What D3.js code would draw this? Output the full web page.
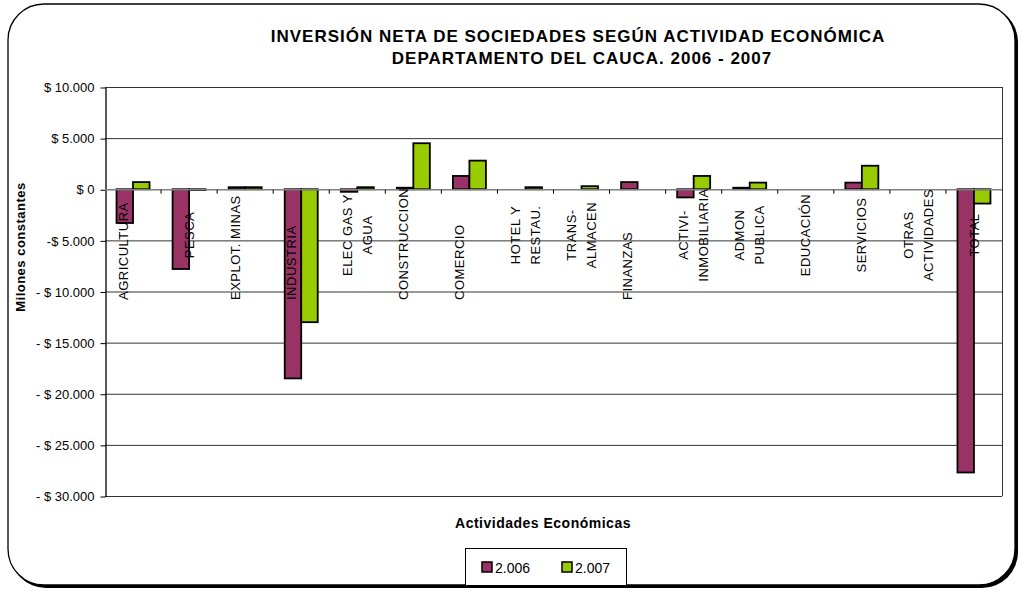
<!DOCTYPE html>
<html>
<head>
<meta charset="utf-8">
<script src="https://cdn.jsdelivr.net/npm/d3@7"></script>
<style>
  body { margin: 0; background: #fff; }
  text { font-family: "Liberation Sans", Arial, sans-serif; fill: #000; }
</style>
</head>
<body>
<svg></svg>
<script>

// datos (millones constantes)
var categorias = ["AGRICULTURA\n", "PESCA", "EXPLOT. MINAS\n", "INDUSTRIA\n", "ELEC GAS Y\nAGUA",
    "CONSTRUCCION\n", "COMERCIO\n", "HOTEL Y\nRESTAU.", "TRANS-\nALMACEN", "FINANZAS\n",
    "ACTIVI-\nINMOBILIARIA", "ADMON\nPUBLICA", "EDUCACIÓN", "SERVICIOS", "OTRAS\nACTIVIDADES", "TOTAL"]
var series = ["2.006", "2.007"]
var valores2006 = [-3300, -7800, 200, -18500, -250, 150, 1300, 0, 0, 700, -800, 150, 0, 650, 0, -27700]
var valores2007 = [700, -80, 200, -13000, 200, 4500, 2800, 200, 300, 0, 1300, 650, 0, 2300, 0, -1400]
var ticksY = [10000, 5000, 0, -5000, -10000, -15000, -20000, -25000, -30000]
var ticksTexto = ["$ 10.000", "$ 5.000", "$ 0", "-$ 5.000", "- $ 10.000", "- $ 15.000", "- $ 20.000", "- $ 25.000", "- $ 30.000"]
var colores = ["#993366", "#99cc00"]

var svg = d3.select("svg")
    .attr("width", 1021)
    .attr("height", 591);

// marco redondeado con sombra
svg.append("rect")
    .attr("x", 10).attr("y", 6)
    .attr("width", 1008).attr("height", 582)
    .attr("rx", 36)
    .attr("fill", "#000");
svg.append("rect")
    .attr("x", 8).attr("y", 4)
    .attr("width", 1007).attr("height", 581)
    .attr("rx", 36)
    .attr("fill", "#fff")
    .attr("stroke", "#000")
    .attr("stroke-width", 1.3);

var izq = 105, der = 1002, arriba = 87, abajo = 496

var y = d3.scaleLinear().domain([-30000, 10000]).range([abajo, arriba]);
var x = d3.scaleBand().domain(d3.range(categorias.length)).range([izq, der]);
var x1 = d3.scaleBand().domain(series).range([x.bandwidth() / 2 - 16.5, x.bandwidth() / 2 + 16.5]);

// titulo
var titulo = svg.append("text")
    .attr("text-anchor", "middle")
    .style("font-size", "17px").style("font-weight", "bold").style("letter-spacing", "1px");
titulo.append("tspan").attr("x", 578).attr("y", 42).text("INVERSIÓN NETA DE SOCIEDADES SEGÚN ACTIVIDAD ECONÓMICA");
titulo.append("tspan").attr("x", 582).attr("y", 64).text("DEPARTAMENTO DEL CAUCA. 2006 - 2007");

// lineas de division
svg.append("g")
    .selectAll("line")
    .data(ticksY.filter(function (d) { return d != 0; }))
    .join("line")
    .attr("x1", izq).attr("x2", der)
    .attr("y1", function (d) { return y(d) + 0.5; })
    .attr("y2", function (d) { return y(d) + 0.5; })
    .attr("stroke", "#333")
    .attr("stroke-width", 1);

// borde derecho del area
svg.append("line")
    .attr("x1", der + 0.5).attr("x2", der + 0.5)
    .attr("y1", arriba).attr("y2", abajo)
    .attr("stroke", "#333");

// eje y
var ejeY = svg.append("g")
    .attr("transform", "translate(" + (izq + 0.5) + ",0.5)")
    .call(d3.axisLeft(y).tickValues(ticksY).tickSize(5).tickSizeOuter(0)
        .tickFormat(function (d, i) { return ticksTexto[i]; }));
ejeY.select(".domain").attr("stroke", "#000").attr("stroke-width", 1.3);
ejeY.selectAll(".tick line").attr("stroke", "#000");
ejeY.selectAll(".tick text")
    .attr("x", -11)
    .style("font-family", "Liberation Sans, Arial, sans-serif")
    .style("font-size", "13px");

// barras
var grupos = svg.append("g")
    .selectAll("g")
    .data(categorias)
    .join("g")
    .attr("transform", function (d, i) { return "translate(" + x(i) + ",0)"; });

grupos.selectAll("rect")
    .data(function (d, i) { return [valores2006[i], valores2007[i]].map(function (v, j) { return { s: series[j], v: v, c: colores[j] }; }); })
    .join("rect")
    .filter(function (d) { return d.v != 0; })
    .attr("x", function (d) { return x1(d.s); })
    .attr("width", x1.bandwidth())
    .attr("y", function (d) { return y(Math.max(0, d.v)); })
    .attr("height", function (d) { return Math.abs(y(d.v) - y(0)); })
    .attr("fill", function (d) { return d.c; })
    .attr("stroke", "#000")
    .attr("stroke-width", 1.8);

// eje x en el cero
var ejeX = svg.append("g")
    .attr("transform", "translate(0," + (y(0) + 0.5) + ")");
ejeX.append("line")
    .attr("x1", izq).attr("x2", der)
    .attr("stroke", "#808080").attr("stroke-width", 1.3);
ejeX.selectAll(".marca")
    .data(d3.range(1, categorias.length))
    .join("line")
    .attr("class", "marca")
    .attr("x1", function (d) { return x(d); })
    .attr("x2", function (d) { return x(d); })
    .attr("y1", 0).attr("y2", 4)
    .attr("stroke", "#000");

// etiquetas de categoria (texto vertical)
categorias.forEach(function (c, i) {
    var lineas = c.split("\n")
    var abajoAlineado = lineas[lineas.length - 1] == ""
    var cx = x(i) + x.bandwidth() / 2
    lineas.forEach(function (l, k) {
        if (l == "") return;
        var px = cx + (k - (lineas.length - 1) / 2) * 20 + 4.6
        var py = abajoAlineado ? 300 : 235
        svg.append("text")
            .attr("transform", "translate(" + px + "," + py + ") rotate(-90)")
            .attr("text-anchor", abajoAlineado ? "start" : "middle")
            .style("font-size", "13px")
            .style("letter-spacing", "0.5px")
            .text(l);
    });
});

// titulos de ejes
svg.append("text")
    .attr("transform", "translate(25,247) rotate(-90)")
    .attr("text-anchor", "middle")
    .style("font-size", "13px").style("font-weight", "bold").style("letter-spacing", "0.5px")
    .text("Milones constantes");

svg.append("text")
    .attr("x", 543).attr("y", 528)
    .attr("text-anchor", "middle")
    .style("font-size", "14px").style("font-weight", "bold").style("letter-spacing", "0.5px")
    .text("Actividades Económicas");

// leyenda
svg.append("rect")
    .attr("x", 465.5).attr("y", 548.5)
    .attr("width", 161).attr("height", 37)
    .attr("fill", "#fff").attr("stroke", "#000");

var leyenda = svg.append("g")
    .selectAll("g")
    .data(series)
    .join("g")
    .attr("transform", function (d, i) { return "translate(" + (482 + i * 80) + ",562)"; });
leyenda.append("rect")
    .attr("width", 10).attr("height", 10)
    .attr("fill", function (d, i) { return colores[i]; })
    .attr("stroke", "#000").attr("stroke-width", 1.5);
leyenda.append("text")
    .attr("x", 13).attr("y", 11)
    .style("font-size", "14px")
    .text(function (d) { return d; });

</script>
</body>
</html>
